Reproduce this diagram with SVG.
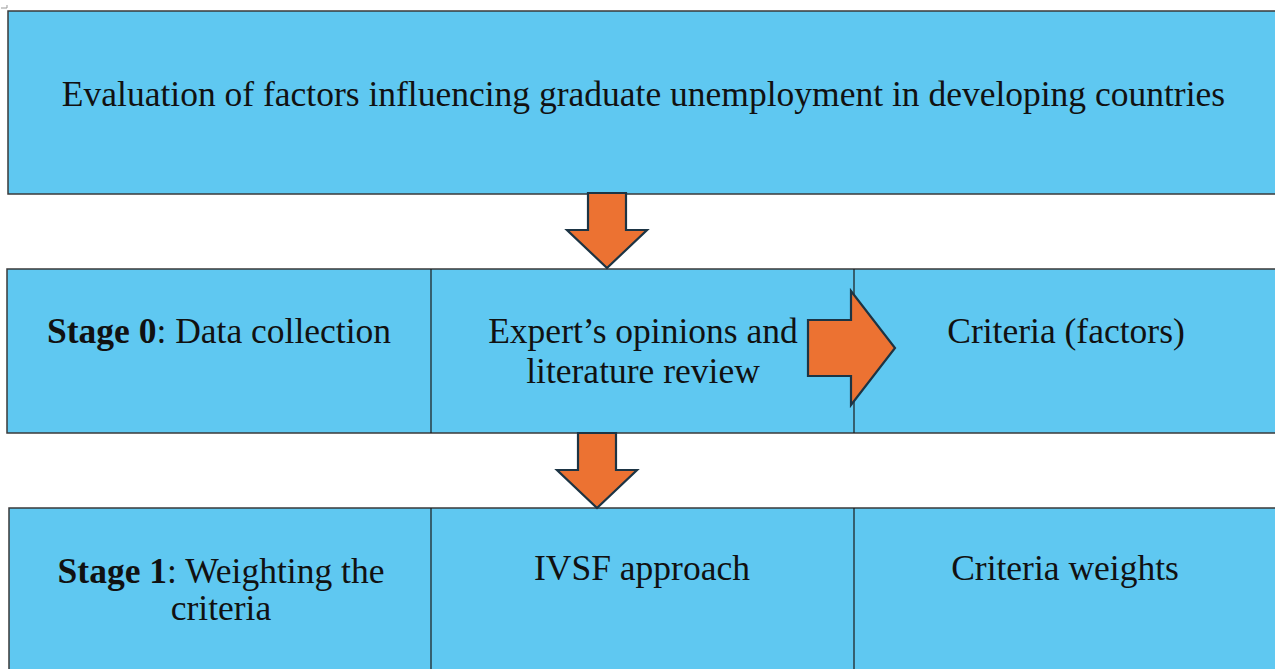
<svg xmlns="http://www.w3.org/2000/svg" width="1275" height="669" viewBox="0 0 1275 669">
  <style>
    .box { fill: #5fc8f1; stroke: #3a3a3a; stroke-width: 1.5; }
    .div { stroke: #1a1a1a; stroke-width: 1.2; }
    .arrow { fill: #ec7232; stroke: #1c3444; stroke-width: 2.2; stroke-linejoin: miter; }
    .t { font-family: "Liberation Serif", "Times New Roman", serif; font-size: 35.5px; fill: #111; text-anchor: middle; }
    .b { font-weight: bold; }
  </style>
  <rect width="1275" height="669" fill="#ffffff"/>
  <!-- small corner mark -->
  <path d="M1 8 H7 M7 5 V8" stroke="#999" stroke-width="1" fill="none"/>

  <g id="title">
    <rect class="box" x="8" y="11" width="1272" height="183"/>
    <text class="t" x="643.5" y="106">Evaluation of factors influencing graduate unemployment in developing countries</text>
  </g>

  <g id="stage0">
    <rect class="box" x="7" y="269" width="1273" height="164"/>
    <line class="div" x1="431" y1="269" x2="431" y2="433"/>
    <line class="div" x1="854" y1="269" x2="854" y2="433"/>
  </g>
  <g id="stage0-label">
    <text class="t" x="219" y="343"><tspan class="b">Stage 0</tspan>: Data collection</text>
  </g>
  <g id="stage0-source">
    <text class="t" x="643" y="343">Expert’s opinions and</text>
    <text class="t" x="643" y="383">literature review</text>
  </g>
  <g id="stage0-result">
    <text class="t" x="1066" y="343">Criteria (factors)</text>
  </g>

  <g id="stage1">
    <rect class="box" x="9" y="508" width="1271" height="170"/>
    <line class="div" x1="431" y1="508" x2="431" y2="669"/>
    <line class="div" x1="854" y1="508" x2="854" y2="669"/>
  </g>
  <g id="stage1-label">
    <text class="t" x="221" y="583"><tspan class="b">Stage 1</tspan>: Weighting the</text>
    <text class="t" x="221" y="620">criteria</text>
  </g>
  <g id="stage1-method">
    <text class="t" x="642" y="580">IVSF approach</text>
  </g>
  <g id="stage1-result">
    <text class="t" x="1065" y="580">Criteria weights</text>
  </g>

  <g id="connectors">
    <polygon class="arrow" points="588,193 626,193 626,230 647,230 607,268 567,230 588,230"/>
    <polygon class="arrow" points="578,433 616,433 616,470 637,470 597,508 557,470 578,470"/>
    <polygon class="arrow" points="808,320 851,320 851,291 895,348 851,405 851,376 808,376"/>
  </g>
</svg>
